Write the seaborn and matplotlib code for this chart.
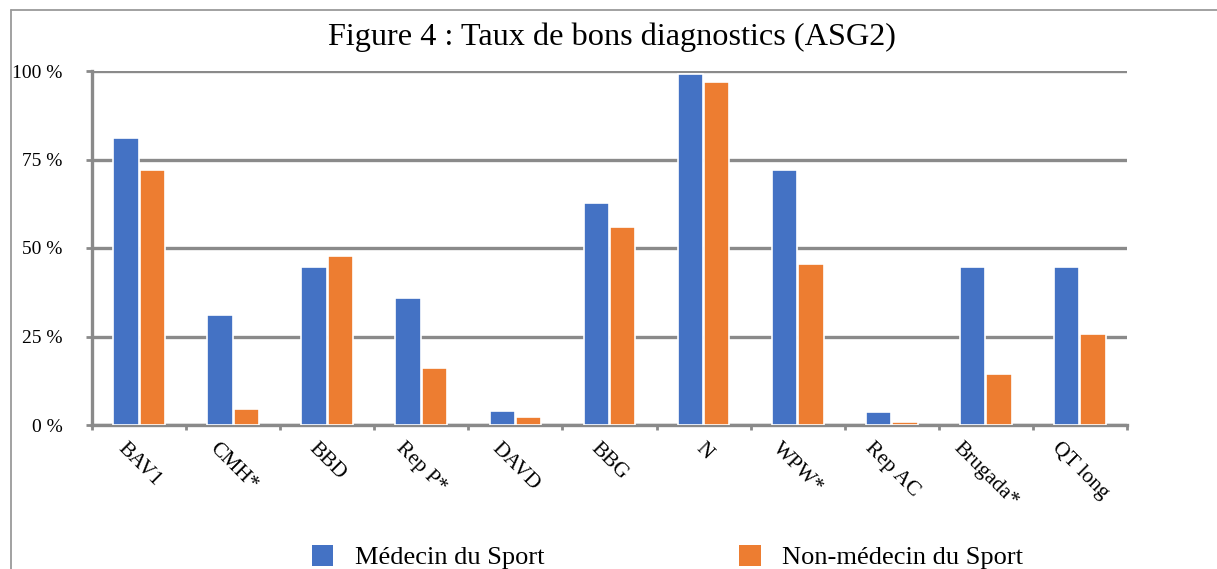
import matplotlib
matplotlib.use("Agg")
import matplotlib.pyplot as plt
import seaborn as sns
import pandas as pd
from matplotlib.lines import Line2D
from matplotlib.patches import Patch

# ---- data ----
categories = ["BAV1", "CMH*", "BBD", "Rep P*", "DAVD", "BBG", "N", "WPW*", "Rep AC", "Brugada*", "QT long"]
medecin_sport = [81, 31, 44.6, 35.8, 4.0, 62.8, 99.2, 72, 3.8, 44.6, 44.6]
non_medecin_sport = [72, 4.5, 47.6, 16.1, 2.4, 56, 96.9, 45.5, 0.8, 14.3, 25.7]
series_names = ["Médecin du Sport", "Non-médecin du Sport"]
y_ticks = [0, 25, 50, 75, 100]
y_tick_labels = ["0 %", "25 %", "50 %", "75 %", "100 %"]
title = "Figure 4 : Taux de bons diagnostics (ASG2)"

colors = ["#4472C4", "#ED7D31"]

df = pd.DataFrame({
    "categorie": categories * 2,
    "valeur": medecin_sport + non_medecin_sport,
    "groupe": [series_names[0]] * len(categories) + [series_names[1]] * len(categories),
})

sns.set_theme(style="white")
serif = ["Liberation Serif", "DejaVu Serif"]
plt.rcParams["font.family"] = serif
plt.rcParams["text.color"] = "black"

fig = plt.figure(figsize=(12.17, 5.69), dpi=100)
ax = fig.add_axes([92 / 1217, 1 - 425 / 569, (1127 - 92) / 1217, (425 - 71) / 569])

sns.barplot(data=df, x="categorie", y="valeur", hue="groupe", order=categories,
            hue_order=series_names, palette=colors, saturation=1, width=0.56, gap=0.04,
            edgecolor="white", linewidth=1.2, ax=ax, legend=False, zorder=3)

grid_col = "#8a8a8a"
ax.set_ylim(0, 100)
ax.set_xlim(-0.5, len(categories) - 0.5)
ax.set_yticks(y_ticks)
ax.set_yticklabels(y_tick_labels, fontsize=14, color="black")
ax.yaxis.grid(True, color=grid_col, linewidth=2.4, zorder=0)
ax.xaxis.grid(False)
ax.set_axisbelow(True)
ax.set_xlabel("")
ax.set_ylabel("")

ax.set_xticks(range(len(categories)))
ax.set_xticklabels(categories, rotation=-45, ha="center", va="top", fontsize=15.5, color="black")
ax.set_xticks([i - 0.5 for i in range(len(categories) + 1)], minor=True)
ax.tick_params(axis="x", which="major", length=0, pad=10)
ax.tick_params(axis="x", which="minor", length=3.8, width=2, color=grid_col, direction="out")
ax.tick_params(axis="y", which="major", length=4.3, width=2, color=grid_col, direction="out", pad=17)
ax.tick_params(left=True, bottom=True, which="both")

for s in ["top", "right"]:
    ax.spines[s].set_visible(False)
for s in ["left", "bottom"]:
    ax.spines[s].set_visible(True)
    ax.spines[s].set_color(grid_col)
    ax.spines[s].set_linewidth(2.4)

fig.text(0.5025, 1 - 45 / 569, title, ha="center", va="baseline", fontsize=23.2,
         family=serif, color="black")

# outer frame (partially visible)
fig.add_artist(Line2D([11 / 1217, 11 / 1217], [0, 1 - 10 / 569], color="#9a9a9a", linewidth=1.3))
fig.add_artist(Line2D([11 / 1217, 1.0], [1 - 10 / 569, 1 - 10 / 569], color="#9a9a9a", linewidth=1.3))

handles = [Patch(facecolor=c, edgecolor="none") for c in colors]
fig.legend(handles, series_names, loc="center", bbox_to_anchor=(0.5485, 1 - 557 / 569), ncol=2,
           frameon=False, handlelength=0.8, handleheight=0.85, handletextpad=0.83,
           columnspacing=7.4, prop={"family": serif, "size": 19}, labelcolor="black")

fig.savefig("out.png", dpi=100)
